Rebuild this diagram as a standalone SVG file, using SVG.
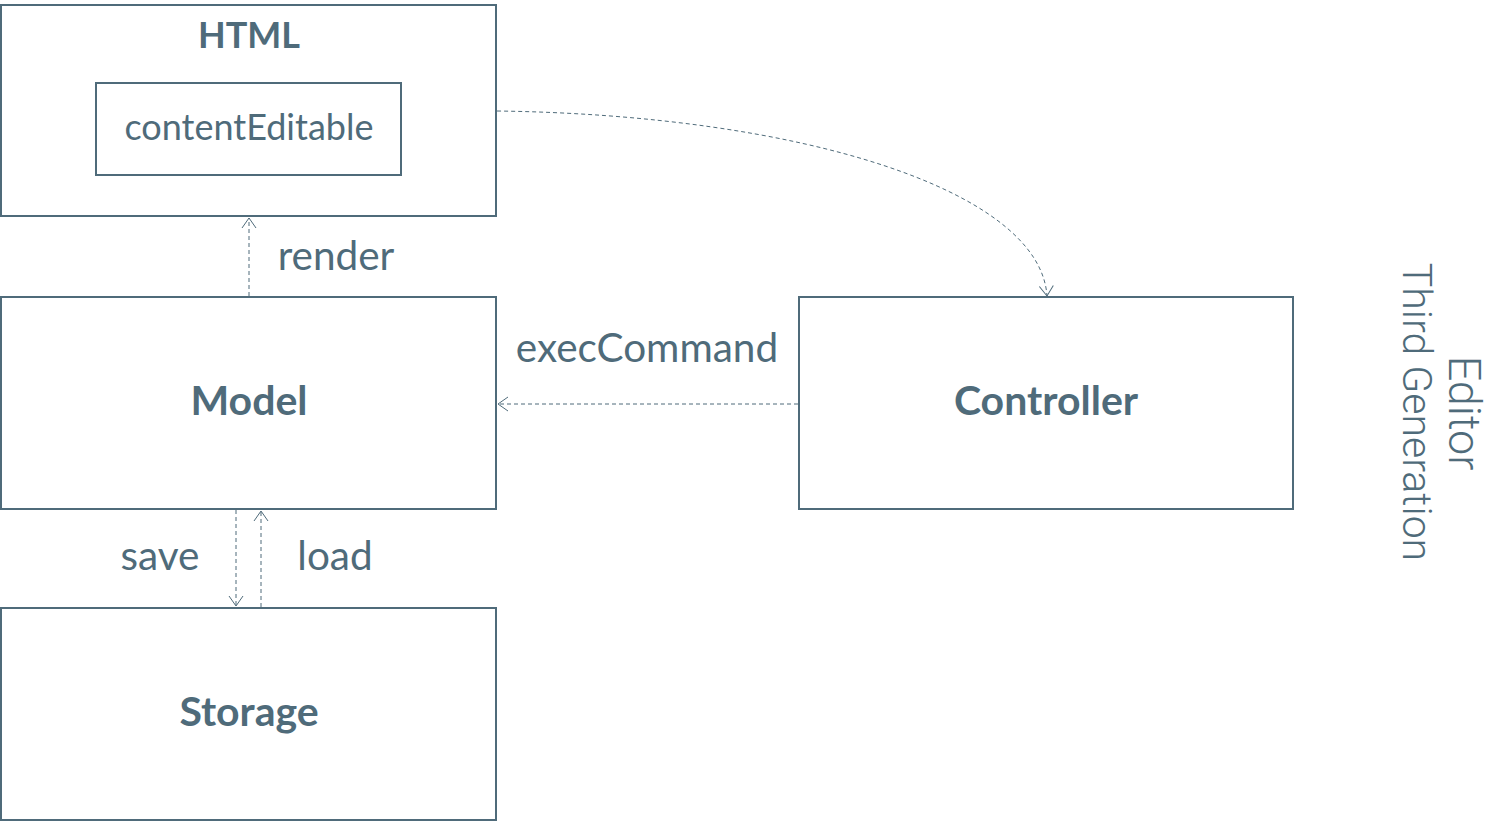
<svg xmlns="http://www.w3.org/2000/svg" width="1507" height="821" viewBox="0 0 1507 821">
<style>
.box{fill:#fff;stroke:#4f6b7a;stroke-width:2}
.t{font-family:Lato,"Liberation Sans",sans-serif;fill:#4f6b7a;text-anchor:middle}
.b{font-weight:bold;font-size:41px}
.r{font-size:40.5px}
.c{fill:none;stroke:#4f6b7a;stroke-width:1;stroke-dasharray:4 3}
.v{font-family:Roboto,"Liberation Sans",sans-serif;fill:#4f6b7a;text-anchor:middle;font-size:41px;font-weight:300}
</style>
<defs>
<marker id="a" viewBox="0 0 12 16" refX="11" refY="8" markerWidth="12" markerHeight="16" markerUnits="userSpaceOnUse" orient="auto">
<path d="M1,1 L11,8 L1,15" fill="none" stroke="#4f6b7a" stroke-width="1"/>
</marker>
</defs>
<rect width="1507" height="821" fill="#fff"/>
<g id="html">
<rect class="box" x="1" y="5" width="495" height="211"/>
<text class="t b" x="249" y="48" style="font-size:36px">HTML</text>
</g>
<g id="contentEditable">
<rect class="box" x="96" y="83" width="305" height="92"/>
<text class="t" x="249" y="140" style="font-size:36px">contentEditable</text>
</g>
<g id="model">
<rect class="box" x="1" y="297" width="495" height="212"/>
<text class="t b" x="249" y="415">Model</text>
</g>
<g id="controller">
<rect class="box" x="799" y="297" width="494" height="212"/>
<text class="t b" x="1046" y="415">Controller</text>
</g>
<g id="storage">
<rect class="box" x="1" y="608" width="495" height="212"/>
<text class="t b" x="249" y="726">Storage</text>
</g>
<g id="connectors">
<path class="c" d="M249,296 L249,218" marker-end="url(#a)"/>
<path class="c" d="M497,111 C800,115 1040,190 1047,296" marker-end="url(#a)"/>
<path class="c" d="M798,404 L498,404" marker-end="url(#a)"/>
<path class="c" d="M236,510 L236,606" marker-end="url(#a)"/>
<path class="c" d="M261,607 L261,511" marker-end="url(#a)"/>
</g>
<g id="labels">
<text class="t r" x="336" y="270">render</text>
<text class="t r" x="647" y="362">execCommand</text>
<text class="t r" x="160" y="570">save</text>
<text class="t r" x="335" y="570">load</text>
</g>
<g id="title">
<text class="v" transform="translate(1449,413) rotate(90)" style="font-size:45px">Editor</text>
<text class="v" transform="translate(1403,412) rotate(90)">Third Generation</text>
</g>
</svg>
